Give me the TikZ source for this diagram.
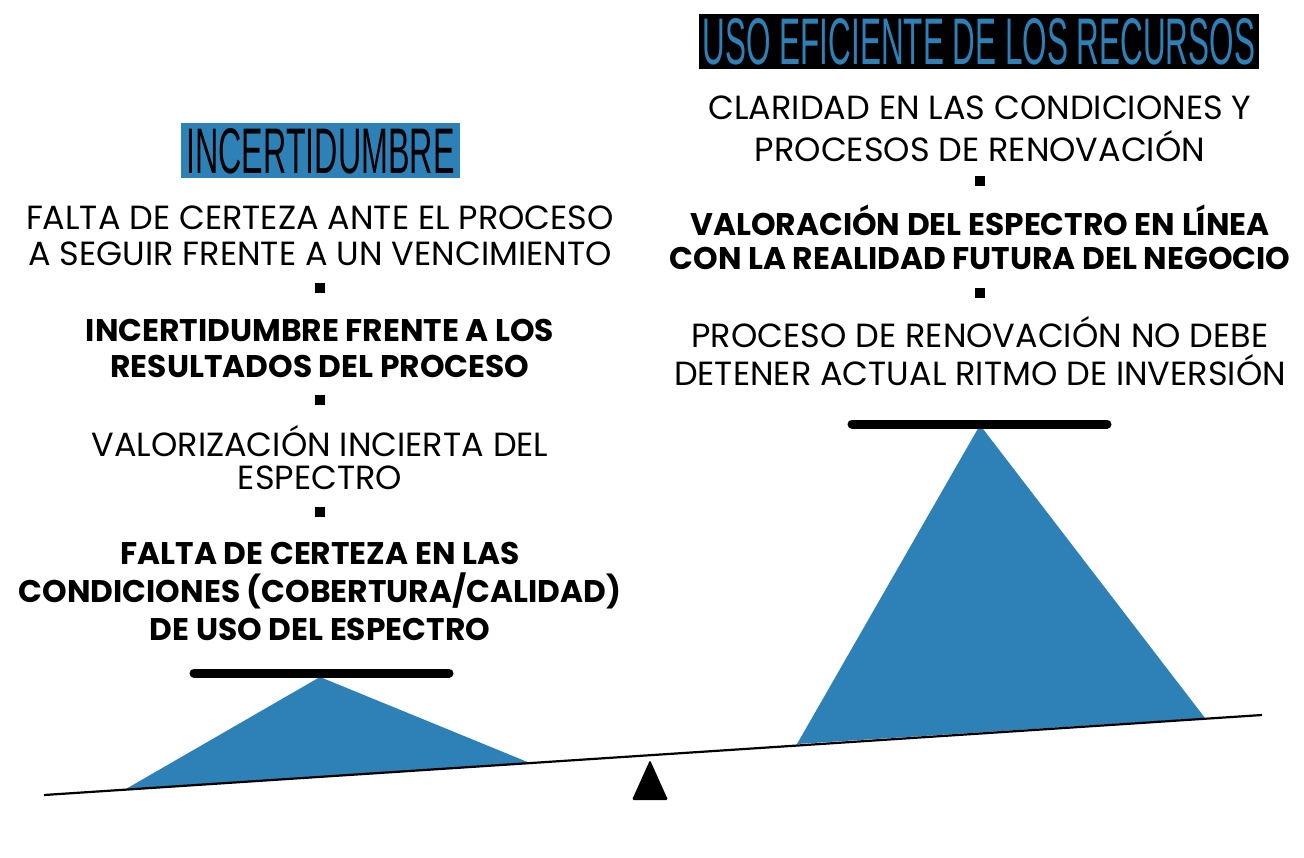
\documentclass[tikz,border=0pt]{standalone}
\usepackage{fontspec}
\setmainfont{Poppins}
\newfontfamily\titlefont{Liberation Sans}
\definecolor{accent}{HTML}{2E81B7}
\begin{document}
\begin{tikzpicture}[x=1pt,y=-1pt,
  lite/.style={inner sep=0pt,font=\fontsize{33.5}{36}\selectfont},
  heavy/.style={inner sep=0pt,font=\fontsize{31.3}{36}\selectfont\bfseries},
  sep/.style={fill=black,minimum size=10pt,inner sep=0pt},
  bar/.style={line width=9pt,line cap=round},
  load/.style={fill=accent}]
\useasboundingbox (0,0) rectangle (1304,857);
% titles
\node[fill=accent,minimum width=279pt,minimum height=55pt,inner sep=0pt] (t1) at (320.5,150.5) {};
\node[inner sep=0pt] (t1txt) at (320.5,151) {\resizebox{268pt}{45pt}{\titlefont INCERTIDUMBRE}};
\node[fill=black,minimum width=560pt,minimum height=55pt,inner sep=0pt] (t2) at (979,41.5) {};
\node[inner sep=0pt,text=accent] (t2txt) at (979,42) {\resizebox{552pt}{46pt}{\titlefont USO EFICIENTE DE LOS RECURSOS}};
% left column
\node[lite] (l1) at (320,218) {FALTA DE CERTEZA ANTE EL PROCESO};
\node[lite] (l2) at (320,254) {A SEGUIR FRENTE A UN VENCIMIENTO};
\node[sep] (s1) at (320,288) {};
\node[heavy] (l3) at (320,330) {INCERTIDUMBRE FRENTE A LOS};
\node[heavy] (l4) at (320,366) {RESULTADOS DEL PROCESO};
\node[sep] (s2) at (320,400) {};
\node[lite] (l5) at (320,441) {VALORIZACIÓN INCIERTA DEL};
\node[lite] (l6) at (320,478) {ESPECTRO};
\node[sep] (s3) at (320,512) {};
\node[heavy] (l7) at (320,553) {FALTA DE CERTEZA EN LAS};
\node[heavy] (l8) at (320,591) {CONDICIONES (COBERTURA/CALIDAD)};
\node[heavy] (l9) at (320,629) {DE USO DEL ESPECTRO};
% right column
\node[lite] (r1) at (980,108) {CLARIDAD EN LAS CONDICIONES Y};
\node[lite] (r2) at (980,146) {PROCESOS DE RENOVACIÓN};
\node[sep] (s4) at (980,181) {};
\node[heavy] (r3) at (980,220) {VALORACIÓN DEL ESPECTRO EN LÍNEA};
\node[heavy] (r4) at (980,258) {CON LA REALIDAD FUTURA DEL NEGOCIO};
\node[sep] (s5) at (980,293) {};
\node[lite] (r5) at (980,332) {PROCESO DE RENOVACIÓN NO DEBE};
\node[lite] (r6) at (980,370) {DETENER ACTUAL RITMO DE INVERSIÓN};
% balance
\fill[load] (125,789.5) -- (320,677) -- (530,763) -- cycle;
\fill[load] (797,744) -- (980,425) -- (1205,718) -- cycle;
\draw[bar] (194,673) -- (449,673);
\draw[bar] (852,424) -- (1107,424);
\draw[line width=2.2pt] (44,795) -- (1262,715);
\fill[rounded corners=1.5pt] (632,800) -- (650,760) -- (668,800) -- cycle;
\end{tikzpicture}
\end{document}
